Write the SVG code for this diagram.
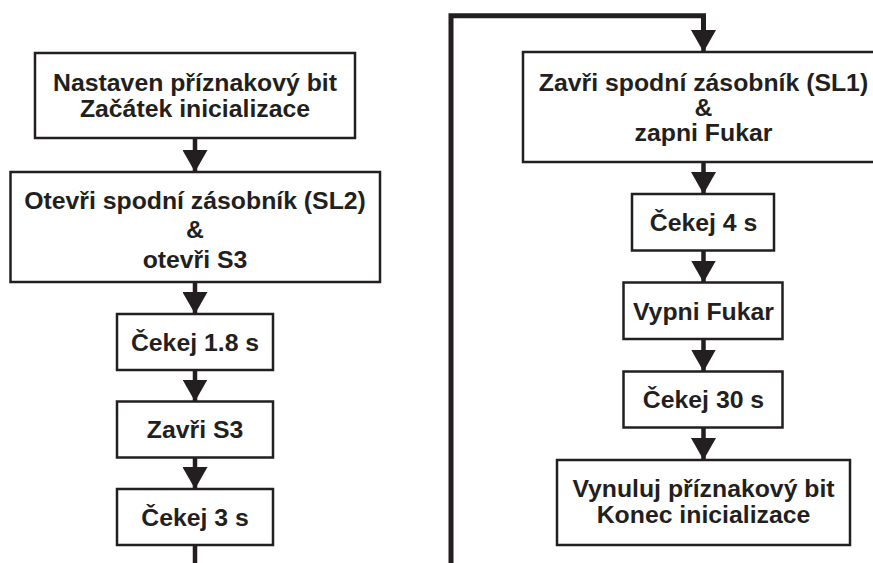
<svg xmlns="http://www.w3.org/2000/svg" width="873" height="563" viewBox="0 0 873 563">
<style>
.box{fill:#fff;stroke:#231f20;stroke-width:2.5}
.t{font-family:"Liberation Sans",Arial,sans-serif;font-weight:bold;font-size:24.8px;fill:#231f20;text-anchor:middle}
.c{fill:none;stroke:#231f20;stroke-width:4.5}
.loop{fill:none;stroke:#231f20;stroke-width:5}
</style>
<defs>
<marker id="arr" viewBox="0 0 22 25" refX="22" refY="12.5" markerWidth="22" markerHeight="25" markerUnits="userSpaceOnUse" orient="auto">
<path d="M0,0 L22,12.5 L0,25 Z" fill="#231f20"/>
</marker>
</defs>
<rect width="873" height="563" fill="#fff"/>
<g id="connectors">
<line class="c" x1="195" y1="138" x2="195" y2="172" marker-end="url(#arr)"/>
<line class="c" x1="195" y1="282" x2="195" y2="314" marker-end="url(#arr)"/>
<line class="c" x1="195" y1="370" x2="195" y2="401.5" marker-end="url(#arr)"/>
<line class="c" x1="195" y1="457.5" x2="195" y2="489" marker-end="url(#arr)"/>
<line class="c" x1="195" y1="545" x2="195" y2="563"/>
<path class="loop" d="M451,563 V15.8 H703.5 V30"/>
<line class="c" x1="703.5" y1="18" x2="703.5" y2="52" marker-end="url(#arr)"/>
<line class="c" x1="703.5" y1="162" x2="703.5" y2="194" marker-end="url(#arr)"/>
<line class="c" x1="703.5" y1="250.5" x2="703.5" y2="282.5" marker-end="url(#arr)"/>
<line class="c" x1="703.5" y1="339" x2="703.5" y2="371.5" marker-end="url(#arr)"/>
<line class="c" x1="703.5" y1="427.5" x2="703.5" y2="460" marker-end="url(#arr)"/>
</g>
<g id="n1"><rect class="box" x="35" y="53" width="320" height="85"/>
<text class="t" x="195" y="91">Nastaven příznakový bit</text>
<text class="t" x="195" y="117">Začátek inicializace</text></g>
<g id="n2"><rect class="box" x="10.5" y="172" width="369.5" height="110"/>
<text class="t" x="195" y="209">Otevři spodní zásobník (SL2)</text>
<text class="t" x="195" y="238">&amp;</text>
<text class="t" x="195" y="267.5">otevři S3</text></g>
<g id="n3"><rect class="box" x="117" y="314" width="156" height="56"/>
<text class="t" x="195" y="350.5">Čekej 1.8 s</text></g>
<g id="n4"><rect class="box" x="117" y="401.5" width="156" height="56"/>
<text class="t" x="195" y="438">Zavři S3</text></g>
<g id="n5"><rect class="box" x="117" y="489" width="156" height="56"/>
<text class="t" x="195" y="525.5">Čekej 3 s</text></g>
<g id="n6"><rect class="box" x="523" y="52" width="361" height="110"/>
<text class="t" x="703.5" y="90.5">Zavři spodní zásobník (SL1)</text>
<text class="t" x="703.5" y="115.5">&amp;</text>
<text class="t" x="703.5" y="140.5">zapni Fukar</text></g>
<g id="n7"><rect class="box" x="632" y="194" width="142" height="56.5"/>
<text class="t" x="703.5" y="231">Čekej 4 s</text></g>
<g id="n8"><rect class="box" x="623.5" y="282.5" width="159" height="56.5"/>
<text class="t" x="703.5" y="319.5">Vypni Fukar</text></g>
<g id="n9"><rect class="box" x="623.5" y="371.5" width="159" height="56"/>
<text class="t" x="703.5" y="408">Čekej 30 s</text></g>
<g id="n10"><rect class="box" x="557" y="460" width="293" height="85"/>
<text class="t" x="703.5" y="497">Vynuluj příznakový bit</text>
<text class="t" x="703.5" y="523">Konec inicializace</text></g>
</svg>
